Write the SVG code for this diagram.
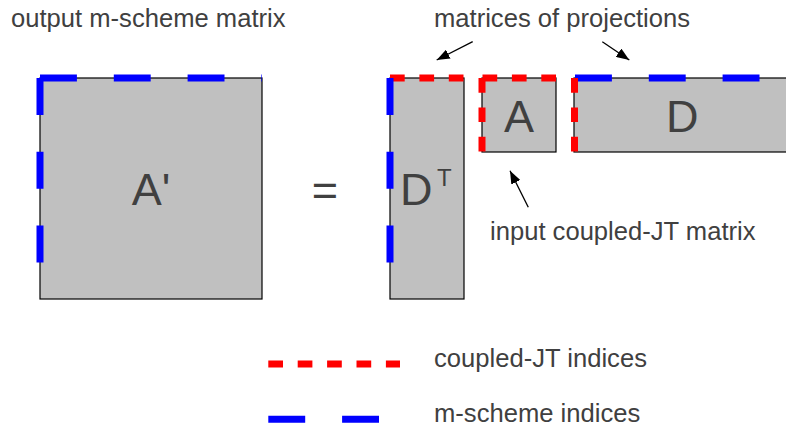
<svg xmlns="http://www.w3.org/2000/svg" width="786" height="432" viewBox="0 0 786 432">
<style>
.box{fill:#c0c0c0;stroke:#000;stroke-width:1.2}
.red{stroke:#ff0000;stroke-width:7;fill:none;stroke-dasharray:14.7 14.7}
.blue{stroke:#0000ff;stroke-width:7;fill:none;stroke-dasharray:36.9 36.9}
.t{font-family:"Liberation Sans",Arial,sans-serif;fill:#404040}
.s{font-size:25.6px}
.b{font-size:45px}
.arr{stroke:#000;stroke-width:1.3;fill:none;marker-end:url(#ah)}
</style>
<defs>
<marker id="ah" viewBox="0 0 13 10" refX="13" refY="5" markerWidth="13" markerHeight="10" markerUnits="userSpaceOnUse" orient="auto">
<path d="M0,0 L13,5 L0,10 z" fill="#000"/>
</marker>
</defs>
<text class="t s" x="11" y="27">output m-scheme matrix</text>
<text class="t s" x="434" y="27">matrices of projections</text>
<g id="Aprime">
<rect class="box" x="40" y="78" width="222" height="221"/>
<line class="blue" x1="40" y1="78" x2="262" y2="78"/>
<line class="blue" x1="40" y1="78" x2="40" y2="299"/>
<text class="t b" x="151" y="205" text-anchor="middle">A'</text>
</g>
<g id="equals">
<text class="t b" x="325" y="205" text-anchor="middle">=</text>
</g>
<g id="DT">
<rect class="box" x="390" y="78" width="74" height="221"/>
<line class="red" x1="390" y1="78" x2="464" y2="78"/>
<line class="blue" x1="390" y1="78" x2="390" y2="299"/>
<text class="t b" x="400" y="205">D</text>
<text class="t" x="437" y="186" font-size="24">T</text>
</g>
<g id="A">
<rect class="box" x="482" y="78" width="74" height="74"/>
<line class="red" x1="556" y1="78" x2="481" y2="78"/>
<line class="red" x1="482" y1="78" x2="482" y2="152"/>
<text class="t b" x="519" y="132" text-anchor="middle">A</text>
</g>
<g id="D">
<rect class="box" x="574" y="78" width="230" height="74"/>
<line class="blue" x1="575" y1="78" x2="790" y2="78"/>
<line class="red" x1="574.5" y1="78" x2="574.5" y2="152"/>
<text class="t b" x="666" y="132">D</text>
</g>
<text class="t s" x="490" y="240">input coupled-JT matrix</text>
<g id="connectors">
<line class="arr" x1="472.7" y1="41.7" x2="436.7" y2="60"/>
<line class="arr" x1="602.3" y1="41.7" x2="629.3" y2="60"/>
<line class="arr" x1="528.3" y1="207.3" x2="510" y2="170.7"/>
</g>
<g id="legend">
<line class="red" x1="268.3" y1="364" x2="400" y2="364"/>
<text class="t s" x="434" y="367">coupled-JT indices</text>
<line class="blue" x1="268.3" y1="419.3" x2="380" y2="419.3"/>
<text class="t s" x="434" y="422">m-scheme indices</text>
</g>
</svg>
